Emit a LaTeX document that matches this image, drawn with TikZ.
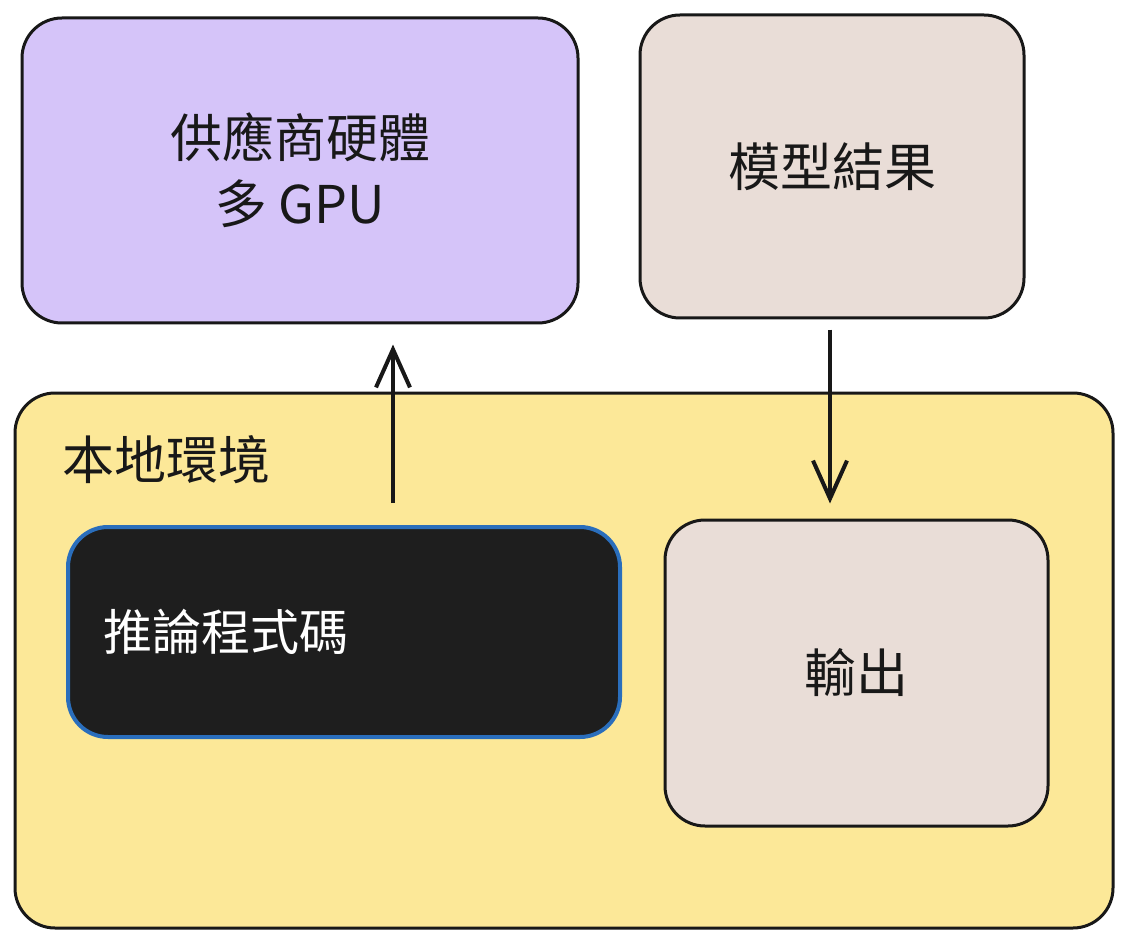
\documentclass[tikz,border=0pt]{standalone}
\usepackage{fontspec}
\setmainfont{Noto Sans CJK TC}
\usetikzlibrary{arrows.meta}
\definecolor{lav}{RGB}{213,196,249}
\definecolor{beige}{RGB}{233,221,215}
\definecolor{ylw}{RGB}{252,232,152}
\definecolor{ink}{RGB}{24,24,24}
\definecolor{codefill}{RGB}{30,30,30}
\definecolor{codeedge}{RGB}{42,110,188}
\tikzset{
  boxbase/.style={rounded corners=40pt, line width=3pt, draw=ink, inner sep=0pt,
    font=\fontsize{52}{66}\selectfont, text=ink},
  gpubox/.style={boxbase, fill=lav, align=center},
  resbox/.style={boxbase, fill=beige, align=center},
  envbox/.style={boxbase, fill=ylw},
  codebox/.style={boxbase, line width=4pt, draw=codeedge, fill=codefill, text=white, align=left, font=\fontsize{49}{60}\selectfont},
  envtext/.style={font=\fontsize{52}{60}\selectfont, text=ink, inner sep=0pt},
  arr/.style={draw=ink, line width=4pt, -{Straight Barb[length=38pt,width=34pt,line width=4pt]}}
}
\begin{document}
\begin{tikzpicture}[x=1pt,y=-1pt]
\useasboundingbox (0,0) rectangle (1128,944);
\fill[white] (0,0) rectangle (1128,944);
\node[gpubox, minimum width=556pt, minimum height=305pt] (gpu) at (300,170.5) {供應商硬體\\多 GPU};
\node[resbox, minimum width=384pt, minimum height=303pt] (res) at (832,166.5) {模型結果};
\node[envbox, minimum width=1098pt, minimum height=535pt] (env) at (564,660.5) {};
\node[envtext, anchor=west] (envlabel) at (62,460) {本地環境};
\node[codebox, minimum width=552pt, minimum height=210pt, text width=482pt, inner xsep=35pt] (code) at (344,632) {推論程式碼};
\node[resbox, minimum width=383pt, minimum height=306pt] (out) at (856.5,673) {輸出};
\coordinate (upx) at (393,0);
\coordinate (downx) at (830,0);
\draw[arr, shorten <=22pt, shorten >=20pt] (code.north -| upx) -- (gpu.south -| upx);
\draw[arr, shorten <=10pt, shorten >=15pt] (res.south -| downx) -- (out.north -| downx);
\end{tikzpicture}
\end{document}
